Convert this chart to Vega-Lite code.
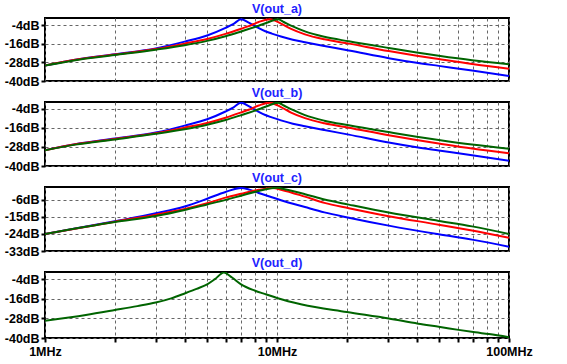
{
  "$schema": "https://vega.github.io/schema/vega-lite/v6.json",
  "background": "white",
  "padding": {"left": 3, "top": 1, "right": 0, "bottom": 0},
  "bounds": "flush",
  "spacing": 21,
  "config": {
    "view": {"stroke": "black", "strokeWidth": 2},
    "font": "Liberation Sans",
    "title": {"font": "Liberation Sans", "fontSize": 12.5, "fontWeight": "bold", "color": "#2222ff", "anchor": "middle", "offset": 3},
    "axis": {"labelFont": "Liberation Sans", "labelFontSize": 12.5, "labelFontWeight": "bold", "labelColor": "black", "tickColor": "black", "tickWidth": 2, "tickSize": 4, "domain": false, "grid": true, "gridDash": [3, 3], "gridColor": "#666666", "gridWidth": 1, "title": null}
  },
  "datasets": {
    "a": [
      {"f": 1, "v": -30, "s": "blue"}, {"f": 1.35, "v": -26.2, "s": "blue"}, {"f": 2, "v": -22.6, "s": "blue"}, {"f": 3, "v": -18.9, "s": "blue"}, {"f": 4, "v": -14.5, "s": "blue"}, {"f": 5, "v": -10.5, "s": "blue"}, {"f": 6, "v": -5.6, "s": "blue"}, {"f": 6.5, "v": -3, "s": "blue"}, {"f": 7, "v": 0, "s": "blue"}, {"f": 7.55, "v": -2.2, "s": "blue"}, {"f": 8.2, "v": -5.2, "s": "blue"}, {"f": 8.9, "v": -7.8, "s": "blue"}, {"f": 9.5, "v": -9.3, "s": "blue"}, {"f": 10.4, "v": -11.2, "s": "blue"}, {"f": 11.7, "v": -13.3, "s": "blue"}, {"f": 13.2, "v": -14.9, "s": "blue"}, {"f": 16, "v": -17.3, "s": "blue"}, {"f": 20.4, "v": -20.2, "s": "blue"}, {"f": 30.3, "v": -25.2, "s": "blue"}, {"f": 40, "v": -28.2, "s": "blue"}, {"f": 49.8, "v": -30.2, "s": "blue"}, {"f": 69.3, "v": -33.2, "s": "blue"}, {"f": 100, "v": -36.7, "s": "blue"},
      {"f": 1, "v": -30, "s": "red"}, {"f": 1.35, "v": -26.3, "s": "red"}, {"f": 2, "v": -22.9, "s": "red"}, {"f": 3, "v": -19.3, "s": "red"}, {"f": 4, "v": -15.8, "s": "red"}, {"f": 5, "v": -12.8, "s": "red"}, {"f": 6, "v": -9.5, "s": "red"}, {"f": 7, "v": -6.2, "s": "red"}, {"f": 7.55, "v": -4.5, "s": "red"}, {"f": 8.34, "v": -1.8, "s": "red"}, {"f": 9.3, "v": 0, "s": "red"}, {"f": 10.4, "v": -2.8, "s": "red"}, {"f": 11.5, "v": -6.3, "s": "red"}, {"f": 13.2, "v": -9.8, "s": "red"}, {"f": 16, "v": -13, "s": "red"}, {"f": 20.4, "v": -15.8, "s": "red"}, {"f": 30.3, "v": -20.6, "s": "red"}, {"f": 40, "v": -23.6, "s": "red"}, {"f": 49.8, "v": -25.8, "s": "red"}, {"f": 69.3, "v": -29, "s": "red"}, {"f": 100, "v": -32, "s": "red"},
      {"f": 1, "v": -30, "s": "green"}, {"f": 1.35, "v": -26.5, "s": "green"}, {"f": 2, "v": -23.2, "s": "green"}, {"f": 3, "v": -19.7, "s": "green"}, {"f": 4, "v": -16.8, "s": "green"}, {"f": 5, "v": -14, "s": "green"}, {"f": 6, "v": -11, "s": "green"}, {"f": 7, "v": -7.9, "s": "green"}, {"f": 8.34, "v": -4.2, "s": "green"}, {"f": 9.1, "v": -2.1, "s": "green"}, {"f": 10.1, "v": 0, "s": "green"}, {"f": 10.7, "v": -1.8, "s": "green"}, {"f": 11.7, "v": -4.6, "s": "green"}, {"f": 13.2, "v": -7.9, "s": "green"}, {"f": 16, "v": -11.4, "s": "green"}, {"f": 20.4, "v": -14.3, "s": "green"}, {"f": 30.3, "v": -18.6, "s": "green"}, {"f": 40, "v": -21.5, "s": "green"}, {"f": 49.8, "v": -23.6, "s": "green"}, {"f": 69.3, "v": -26.5, "s": "green"}, {"f": 100, "v": -29.1, "s": "green"}
    ],
    "c": [
      {"f": 1, "v": -24, "s": "blue"}, {"f": 2, "v": -17.3, "s": "blue"}, {"f": 3, "v": -13.1, "s": "blue"}, {"f": 4, "v": -9.5, "s": "blue"}, {"f": 5, "v": -5.4, "s": "blue"}, {"f": 6, "v": -1.8, "s": "blue"}, {"f": 7, "v": 0.3, "s": "blue"}, {"f": 7.6, "v": -0.6, "s": "blue"}, {"f": 8.34, "v": -2.4, "s": "blue"}, {"f": 9.5, "v": -4.6, "s": "blue"}, {"f": 10.4, "v": -6.2, "s": "blue"}, {"f": 13.2, "v": -9.8, "s": "blue"}, {"f": 16, "v": -12.6, "s": "blue"}, {"f": 20.4, "v": -15.4, "s": "blue"}, {"f": 30.3, "v": -19.6, "s": "blue"}, {"f": 49.8, "v": -24.2, "s": "blue"}, {"f": 69.3, "v": -27, "s": "blue"}, {"f": 100, "v": -30.7, "s": "blue"},
      {"f": 1, "v": -24, "s": "red"}, {"f": 2, "v": -17.5, "s": "red"}, {"f": 3, "v": -13.8, "s": "red"}, {"f": 4, "v": -10.8, "s": "red"}, {"f": 5, "v": -7.8, "s": "red"}, {"f": 6, "v": -4.8, "s": "red"}, {"f": 7, "v": -2.8, "s": "red"}, {"f": 8.34, "v": -0.7, "s": "red"}, {"f": 9.6, "v": 0.3, "s": "red"}, {"f": 10.4, "v": -0.6, "s": "red"}, {"f": 13.2, "v": -4.3, "s": "red"}, {"f": 16, "v": -7.6, "s": "red"}, {"f": 20.4, "v": -10.4, "s": "red"}, {"f": 30.3, "v": -14.6, "s": "red"}, {"f": 49.8, "v": -19.1, "s": "red"}, {"f": 69.3, "v": -22.2, "s": "red"}, {"f": 100, "v": -26, "s": "red"},
      {"f": 1, "v": -24, "s": "green"}, {"f": 2, "v": -17.7, "s": "green"}, {"f": 3, "v": -14.5, "s": "green"}, {"f": 4, "v": -11.3, "s": "green"}, {"f": 5, "v": -8.4, "s": "green"}, {"f": 6, "v": -6, "s": "green"}, {"f": 7, "v": -3.8, "s": "green"}, {"f": 8.34, "v": -1.3, "s": "green"}, {"f": 10, "v": 0.4, "s": "green"}, {"f": 10.8, "v": -0.4, "s": "green"}, {"f": 13.2, "v": -3, "s": "green"}, {"f": 16, "v": -5.8, "s": "green"}, {"f": 20.4, "v": -8.5, "s": "green"}, {"f": 30.3, "v": -12.7, "s": "green"}, {"f": 49.8, "v": -17.1, "s": "green"}, {"f": 69.3, "v": -20, "s": "green"}, {"f": 100, "v": -24, "s": "green"}
    ],
    "d": [
      {"f": 1, "v": -29.4}, {"f": 1.5, "v": -25.8}, {"f": 2, "v": -22.8}, {"f": 2.5, "v": -20.4}, {"f": 3, "v": -18.2}, {"f": 3.5, "v": -15.6}, {"f": 4, "v": -12.6}, {"f": 4.5, "v": -9.8}, {"f": 5, "v": -7}, {"f": 5.4, "v": -3.8}, {"f": 5.9, "v": 0.3}, {"f": 6.4, "v": -2.8}, {"f": 7, "v": -7}, {"f": 8, "v": -10.8}, {"f": 9, "v": -13.2}, {"f": 10, "v": -15.4}, {"f": 12.8, "v": -19.4}, {"f": 20, "v": -24}, {"f": 30.3, "v": -28}, {"f": 40.6, "v": -31.2}, {"f": 50.5, "v": -33.2}, {"f": 60.6, "v": -35}, {"f": 71.5, "v": -36.5}, {"f": 82, "v": -37.6}, {"f": 100, "v": -39.5}
    ]
  },
  "vconcat": [
    {
      "title": "V(out_a)",
      "width": 464, "height": 63,
      "data": {"name": "a"},
      "mark": {"type": "line", "strokeWidth": 2, "interpolate": "monotone", "clip": true},
      "encoding": {
        "x": {"field": "f", "type": "quantitative", "scale": {"type": "log", "domain": [1, 100], "nice": false}, "axis": {"values": [1,2,3,4,5,6,7,8,9,10,20,30,40,50,60,70,80,90,100], "labels": false, "ticks": false, "minExtent": 0, "maxExtent": 0, "labelPadding": 0}},
        "y": {"field": "v", "type": "quantitative", "scale": {"domain": [-40, 0.8], "nice": false, "zero": false}, "axis": {"values": [-40, -28, -16, -4], "labelExpr": "datum.value + 'dB'", "minExtent": 40, "maxExtent": 40, "labelPadding": 2}},
        "color": {"field": "s", "type": "nominal", "sort": null, "scale": {"domain": ["blue", "red", "green"], "range": ["#0000ff", "#ff0000", "#006400"]}, "legend": null}
      }
    },
    {
      "title": "V(out_b)",
      "width": 464, "height": 64,
      "data": {"name": "a"},
      "mark": {"type": "line", "strokeWidth": 2, "interpolate": "monotone", "clip": true},
      "encoding": {
        "x": {"field": "f", "type": "quantitative", "scale": {"type": "log", "domain": [1, 100], "nice": false}, "axis": {"values": [1,2,3,4,5,6,7,8,9,10,20,30,40,50,60,70,80,90,100], "labels": false, "ticks": false, "minExtent": 0, "maxExtent": 0, "labelPadding": 0}},
        "y": {"field": "v", "type": "quantitative", "scale": {"domain": [-40, 0.4], "nice": false, "zero": false}, "axis": {"values": [-40, -28, -16, -4], "labelExpr": "datum.value + 'dB'", "minExtent": 40, "maxExtent": 40, "labelPadding": 2}},
        "color": {"field": "s", "type": "nominal", "sort": null, "scale": {"domain": ["blue", "red", "green"], "range": ["#0000ff", "#ff0000", "#006400"]}, "legend": null}
      }
    },
    {
      "title": "V(out_c)",
      "width": 464, "height": 64,
      "data": {"name": "c"},
      "mark": {"type": "line", "strokeWidth": 2, "interpolate": "monotone", "clip": true},
      "encoding": {
        "x": {"field": "f", "type": "quantitative", "scale": {"type": "log", "domain": [1, 100], "nice": false}, "axis": {"values": [1,2,3,4,5,6,7,8,9,10,20,30,40,50,60,70,80,90,100], "labels": false, "ticks": false, "minExtent": 0, "maxExtent": 0, "labelPadding": 0}},
        "y": {"field": "v", "type": "quantitative", "scale": {"domain": [-33, 0.8], "nice": false, "zero": false}, "axis": {"values": [-33, -24, -15, -6], "labelExpr": "datum.value + 'dB'", "minExtent": 40, "maxExtent": 40, "labelPadding": 2}},
        "color": {"field": "s", "type": "nominal", "sort": null, "scale": {"domain": ["blue", "red", "green"], "range": ["#0000ff", "#ff0000", "#006400"]}, "legend": null}
      }
    },
    {
      "title": "V(out_d)",
      "width": 464, "height": 66,
      "data": {"name": "d"},
      "mark": {"type": "line", "strokeWidth": 2, "interpolate": "monotone", "clip": true, "color": "#006400"},
      "encoding": {
        "x": {"field": "f", "type": "quantitative", "scale": {"type": "log", "domain": [1, 100], "nice": false}, "axis": {"values": [1,2,3,4,5,6,7,8,9,10,20,30,40,50,60,70,80,90,100], "labelExpr": "datum.value == 1 ? '1MHz' : datum.value == 10 ? '10MHz' : datum.value == 100 ? '100MHz' : ''", "labelPadding": 3, "labelOverlap": false, "labelFlush": false}},
        "y": {"field": "v", "type": "quantitative", "scale": {"domain": [-40, 0.6], "nice": false, "zero": false}, "axis": {"values": [-40, -28, -16, -4], "labelExpr": "datum.value + 'dB'", "minExtent": 40, "maxExtent": 40, "labelPadding": 2}}
      }
    }
  ]
}
